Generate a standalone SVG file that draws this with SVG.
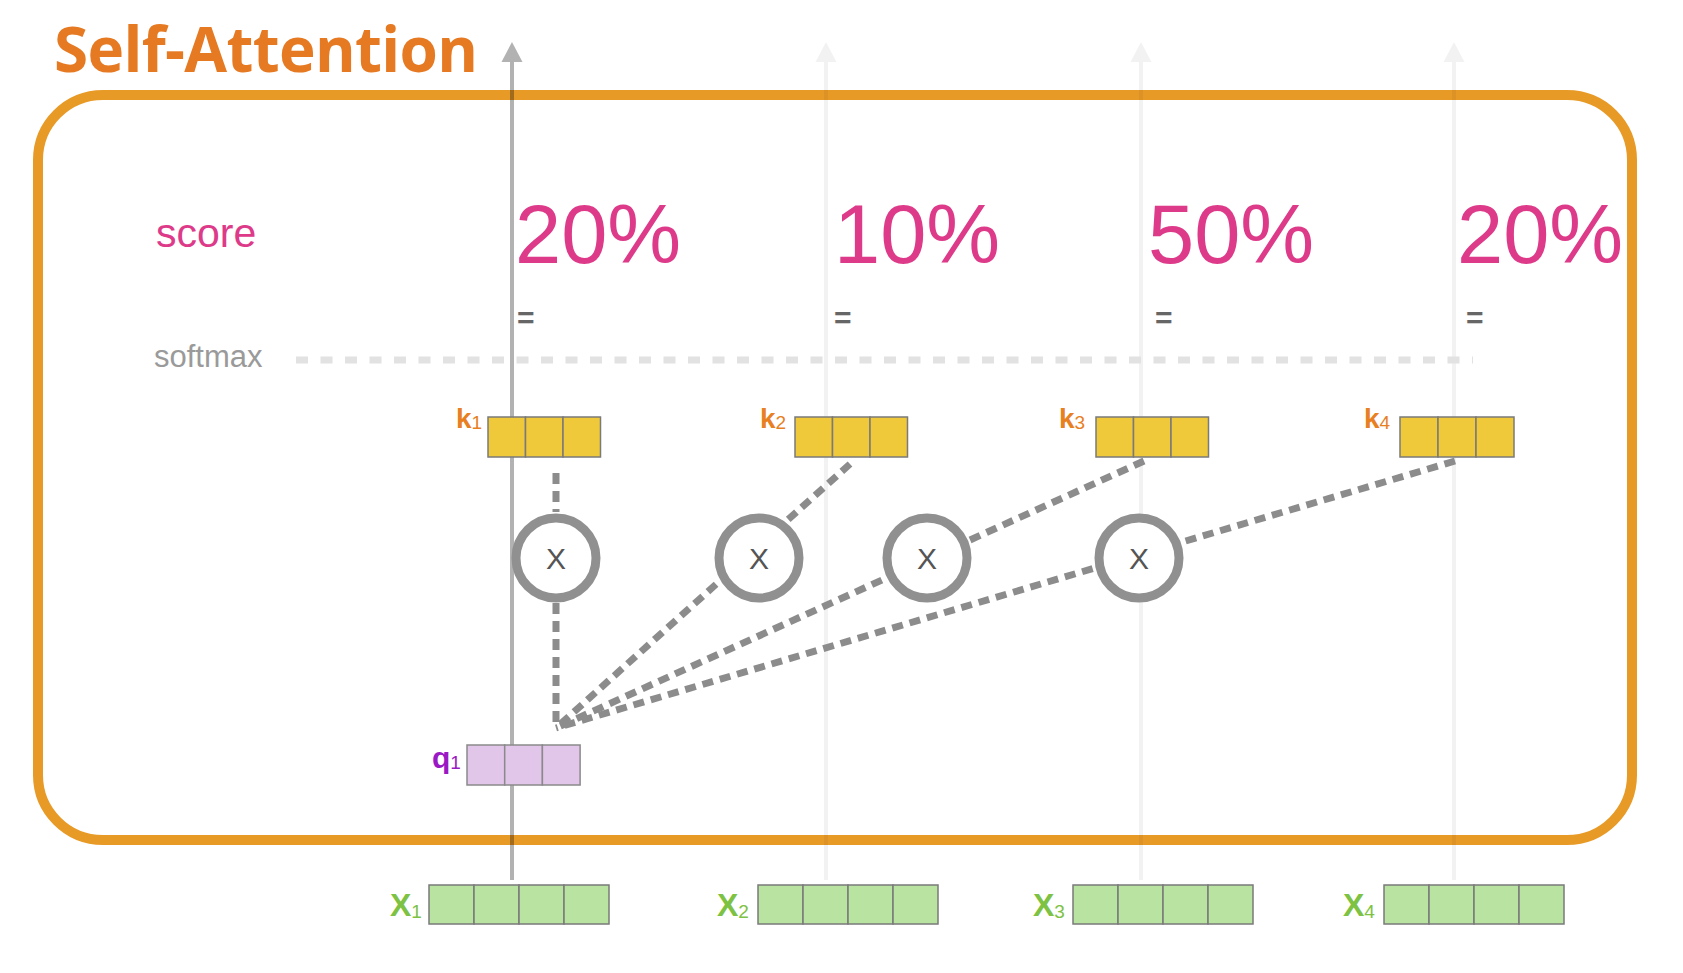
<svg xmlns="http://www.w3.org/2000/svg" width="1683" height="973" viewBox="0 0 1683 973">
<defs>
<style>
.title{font-family:"Open Sans","Liberation Sans",sans-serif;font-weight:700;font-size:62px;fill:#E67A22}
.lbl{font-family:"Liberation Sans",Arial,sans-serif}
.score{font-size:41px;fill:#DE3A8A}
.softmax{font-size:31px;fill:#9a9a9a}
.pct{font-size:83px;fill:#DE3A8A}
.eq{font-size:30px;font-weight:700;fill:#666}
.klab{font-weight:700;font-size:28px;fill:#E8801F}
.qlab{font-weight:700;font-size:30px;fill:#9B19C4}
.xlab{font-weight:700;font-size:32px;fill:#7DC242}
.sub{font-weight:400;font-size:19px}
.kcell{fill:#F0C93A;stroke:#7a7a7a;stroke-width:1.5}
.qcell{fill:#E2C6EA;stroke:#8a8a8a;stroke-width:1.5}
.xcell{fill:#B8E3A0;stroke:#7a7a7a;stroke-width:1.5}
.ring{fill:#fff;stroke:#909090;stroke-width:9}
.mul{font-size:30px;fill:#555;text-anchor:middle}
.dash{stroke:#8c8c8c;stroke-width:7;stroke-dasharray:11 7;fill:none}
.soft{stroke:#e2e2e2;stroke-width:7;stroke-dasharray:12 12.5;fill:none}
.col{stroke:#000;stroke-opacity:.05;stroke-width:4}
.colhead{fill:#000;fill-opacity:.05}
.colmain{stroke:#000;stroke-opacity:.3;stroke-width:4}
.colmainhead{fill:#000;fill-opacity:.3}
</style>
</defs>
<rect width="1683" height="973" fill="#fff"/>
<text class="title" x="54" y="72" textLength="424">Self-Attention</text>
<rect id="frame" x="38" y="95" width="1594" height="745" rx="65" ry="65" fill="none" stroke="#E89A27" stroke-width="10"/>

<g id="columns">
<line class="colmain" x1="512" y1="880" x2="512" y2="62"/>
<polygon class="colmainhead" points="501.5,62 512,42 522.5,62"/>
<line class="col" x1="826" y1="880" x2="826" y2="62"/>
<polygon class="colhead" points="815.5,62 826,42 836.5,62"/>
<line class="col" x1="1141" y1="880" x2="1141" y2="62"/>
<polygon class="colhead" points="1130.5,62 1141,42 1151.5,62"/>
<line class="col" x1="1454" y1="880" x2="1454" y2="62"/>
<polygon class="colhead" points="1443.5,62 1454,42 1464.5,62"/>
</g>

<g id="labels" class="lbl">
<text class="score" x="156" y="247">score</text>
<text class="softmax" x="154" y="367">softmax</text>
</g>
<line class="soft" x1="296" y1="360" x2="1473" y2="360"/>

<g id="scores" class="lbl">
<text class="pct" x="515" y="263">20%</text>
<text class="pct" x="834" y="263">10%</text>
<text class="pct" x="1148" y="263">50%</text>
<text class="pct" x="1457" y="263">20%</text>
<text class="eq" x="517" y="328">=</text>
<text class="eq" x="834" y="328">=</text>
<text class="eq" x="1155" y="328">=</text>
<text class="eq" x="1466" y="328">=</text>
</g>

<g id="connectors">
<line class="dash" x1="556" y1="473" x2="556" y2="512"/>
<line class="dash" x1="556" y1="603" x2="556" y2="728"/>
<line class="dash" x1="850" y1="464" x2="556" y2="728"/>
<line class="dash" x1="1144" y1="461" x2="556" y2="728"/>
<line class="dash" x1="1455" y1="461" x2="556" y2="728"/>
</g>

<g id="k1" class="lbl">
<text class="klab" x="456" y="428">k<tspan class="sub" dy="1">1</tspan></text>
<rect class="kcell" x="488" y="417" width="37.5" height="40"/>
<rect class="kcell" x="525.5" y="417" width="37.5" height="40"/>
<rect class="kcell" x="563" y="417" width="37.5" height="40"/>
</g>
<g id="k2" class="lbl">
<text class="klab" x="760" y="428">k<tspan class="sub" dy="1">2</tspan></text>
<rect class="kcell" x="795" y="417" width="37.5" height="40"/>
<rect class="kcell" x="832.5" y="417" width="37.5" height="40"/>
<rect class="kcell" x="870" y="417" width="37.5" height="40"/>
</g>
<g id="k3" class="lbl">
<text class="klab" x="1059" y="428">k<tspan class="sub" dy="1">3</tspan></text>
<rect class="kcell" x="1096" y="417" width="37.5" height="40"/>
<rect class="kcell" x="1133.5" y="417" width="37.5" height="40"/>
<rect class="kcell" x="1171" y="417" width="37.5" height="40"/>
</g>
<g id="k4" class="lbl">
<text class="klab" x="1364" y="428">k<tspan class="sub" dy="1">4</tspan></text>
<rect class="kcell" x="1400" y="417" width="38" height="40"/>
<rect class="kcell" x="1438" y="417" width="38" height="40"/>
<rect class="kcell" x="1476" y="417" width="38" height="40"/>
</g>

<g id="mul1" class="lbl"><circle class="ring" cx="556" cy="558" r="40"/><text class="mul" x="556" y="569">X</text></g>
<g id="mul2" class="lbl"><circle class="ring" cx="759" cy="558" r="40"/><text class="mul" x="759" y="569">X</text></g>
<g id="mul3" class="lbl"><circle class="ring" cx="927" cy="558" r="40"/><text class="mul" x="927" y="569">X</text></g>
<g id="mul4" class="lbl"><circle class="ring" cx="1139" cy="558" r="40"/><text class="mul" x="1139" y="569">X</text></g>

<g id="q1" class="lbl">
<text class="qlab" x="432" y="768">q<tspan class="sub" dy="1">1</tspan></text>
<rect class="qcell" x="467" y="745" width="37.7" height="40"/>
<rect class="qcell" x="504.7" y="745" width="37.7" height="40"/>
<rect class="qcell" x="542.4" y="745" width="37.7" height="40"/>
</g>

<g id="x1" class="lbl">
<text class="xlab" x="390" y="916">X<tspan class="sub" dy="2">1</tspan></text>
<rect class="xcell" x="429" y="885" width="45" height="39"/>
<rect class="xcell" x="474" y="885" width="45" height="39"/>
<rect class="xcell" x="519" y="885" width="45" height="39"/>
<rect class="xcell" x="564" y="885" width="45" height="39"/>
</g>
<g id="x2" class="lbl">
<text class="xlab" x="717" y="916">X<tspan class="sub" dy="2">2</tspan></text>
<rect class="xcell" x="758" y="885" width="45" height="39"/>
<rect class="xcell" x="803" y="885" width="45" height="39"/>
<rect class="xcell" x="848" y="885" width="45" height="39"/>
<rect class="xcell" x="893" y="885" width="45" height="39"/>
</g>
<g id="x3" class="lbl">
<text class="xlab" x="1033" y="916">X<tspan class="sub" dy="2">3</tspan></text>
<rect class="xcell" x="1073" y="885" width="45" height="39"/>
<rect class="xcell" x="1118" y="885" width="45" height="39"/>
<rect class="xcell" x="1163" y="885" width="45" height="39"/>
<rect class="xcell" x="1208" y="885" width="45" height="39"/>
</g>
<g id="x4" class="lbl">
<text class="xlab" x="1343" y="916">X<tspan class="sub" dy="2">4</tspan></text>
<rect class="xcell" x="1384" y="885" width="45" height="39"/>
<rect class="xcell" x="1429" y="885" width="45" height="39"/>
<rect class="xcell" x="1474" y="885" width="45" height="39"/>
<rect class="xcell" x="1519" y="885" width="45" height="39"/>
</g>
</svg>
